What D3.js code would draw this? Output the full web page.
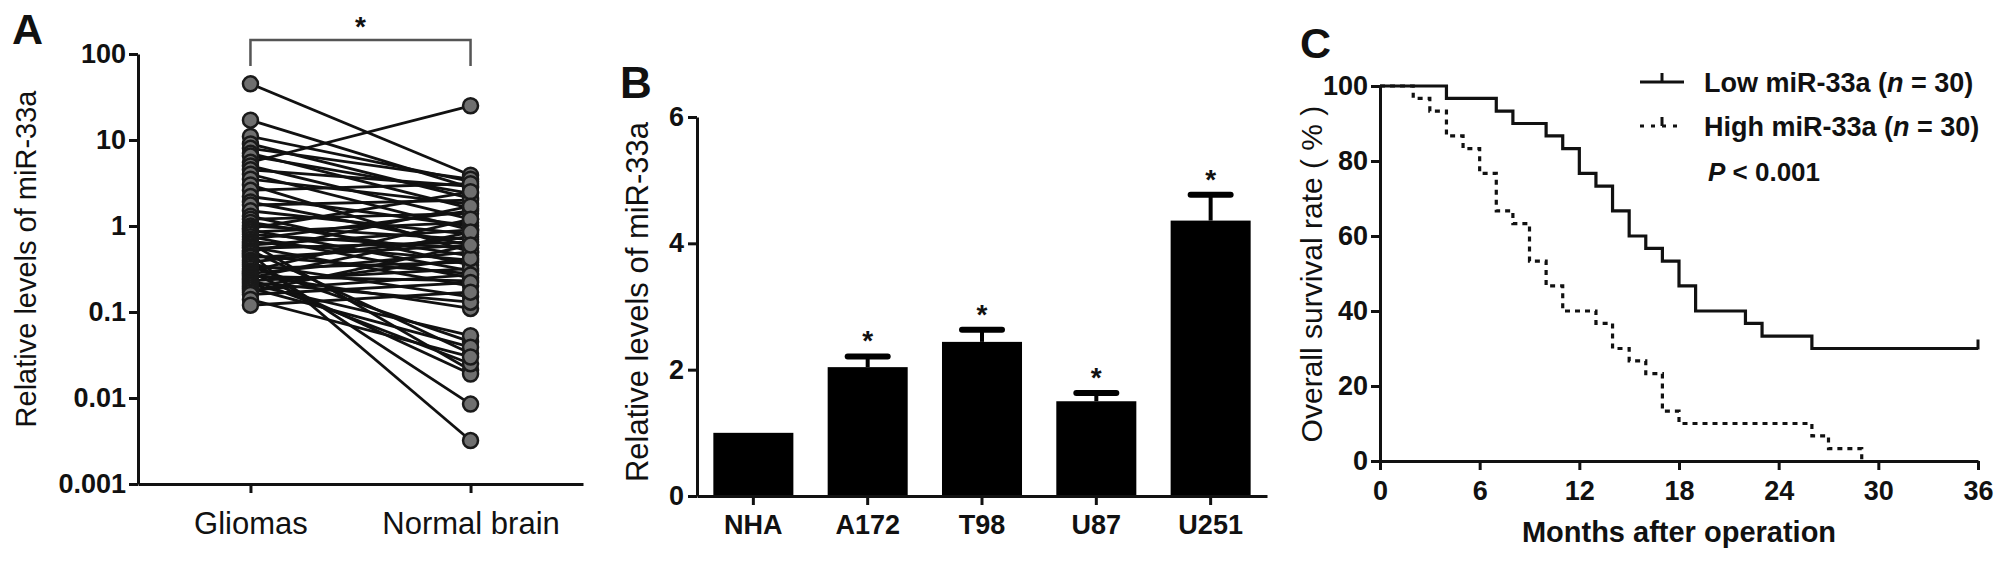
<!DOCTYPE html>
<html><head><meta charset="utf-8">
<script src="https://cdn.jsdelivr.net/npm/d3@7/dist/d3.min.js"></script>
<style>
body{margin:0;background:#fff;}
svg text{font-family:"Liberation Sans", Arial, Helvetica, sans-serif;fill:#111;}
</style></head><body>
<svg id="chart" width="2008" height="580"></svg>
<script>
// ---------- Panel A data ----------
const groupsA = ["Gliomas", "Normal brain"];
const gliomaValues = [45,17,11,9,8,7,6.5,5.5,5,4.5,4,3.5,3,2.6,2.2,1.9,1.75,1.5,1.3,1.2,1.1,1.0,0.94,0.9,0.85,0.8,0.75,0.7,0.66,0.63,0.6,0.57,0.55,0.52,0.5,0.48,0.45,0.43,0.4,0.38,0.36,0.34,0.32,0.3,0.29,0.28,0.27,0.26,0.25,0.24,0.23,0.22,0.21,0.2,0.19,0.18,0.17,0.16,0.14,0.12];
const normalValues = [3.9,2.8,3.3,2.1,3.5,1.6,2.4,25,1.2,2.9,0.9,1.8,0.5,3.1,1.0,0.6,2.0,0.8,0.35,1.4,0.45,0.7,2.5,0.3,1.1,0.55,0.25,1.5,0.4,0.021,0.9,0.2,0.65,0.033,1.7,0.0032,0.28,0.6,0.0085,0.75,0.15,0.045,0.38,1.2,0.019,0.5,0.11,0.23,0.85,0.025,0.32,0.13,0.053,0.42,0.039,0.27,0.6,0.22,0.03,0.17];
const tickValuesA = [100, 10, 1, 0.1, 0.01, 0.001];
const tickLabelsA = ["100", "10", "1", "0.1", "0.01", "0.001"];

// ---------- Panel B data ----------
const cellLines = ["NHA", "A172", "T98", "U87", "U251"];
const meanLevels = [1.0, 2.04, 2.44, 1.5, 4.36];
const semLevels = [0, 0.17, 0.19, 0.13, 0.41];
const significant = [false, true, true, true, true];
const ticksB = [0, 2, 4, 6];

// ---------- Panel C data ----------
const lowTimes = [0,4,7,8,10,11,12,13,14,15,16,17,18,19,22,23,26,36];
const lowSurvival = [100,96.7,93.3,90,86.7,83.3,76.7,73.3,66.7,60,56.7,53.3,46.7,40,36.7,33.3,30,30];
const highTimes = [0,2,3,4,5,6,7,8,9,10,11,13,14,15,16,17,18,26,27,29];
const highSurvival = [100,96.7,93.3,86.7,83.3,76.7,66.7,63.3,53.3,46.7,40,36.7,30,26.7,23.3,13.3,10,6.7,3.3,0];
const ticksCx = [0, 6, 12, 18, 24, 30, 36];
const ticksCy = [0, 20, 40, 60, 80, 100];
const legendLabels = ["Low miR-33a", "High miR-33a"];
const legendN = [30, 30];

const svg = d3.select("#chart");
const AXW = 3;

function styleAxis(g, fs) {
  g.select(".domain").attr("stroke", "#111").attr("stroke-width", AXW);
  g.selectAll(".tick line").attr("stroke", "#111").attr("stroke-width", AXW);
  g.selectAll(".tick text").attr("font-size", fs).attr("font-weight", "bold").attr("fill", "#111");
}

// ================= Panel A =================
const yA = d3.scaleLog().domain([0.001, 100]).range([484, 54]);
const xA = d3.scalePoint().domain(groupsA).range([138, 583]).padding(0.511);
const gA = svg.append("g");

gA.append("text").attr("x", 12).attr("y", 44).attr("font-size", 43).attr("font-weight", "bold").text("A");

const axA = gA.append("g").attr("transform", "translate(138,0)")
  .call(d3.axisLeft(yA).tickValues(tickValuesA).tickFormat((d, i) => tickLabelsA[i]).tickSize(9).tickSizeOuter(0).tickPadding(3));
styleAxis(axA, 27);

const axAx = gA.append("g").attr("transform", "translate(0,484)")
  .call(d3.axisBottom(xA).tickSize(9).tickSizeOuter(0).tickPadding(19));
styleAxis(axAx, 31);
axAx.selectAll(".tick text").attr("font-weight", "normal");

gA.append("text").attr("transform", "translate(36,259) rotate(-90)")
  .attr("text-anchor", "middle").attr("font-size", 29).text("Relative levels of miR-33a");

// bracket
gA.append("path")
  .attr("d", `M${xA(groupsA[0])},66V40H${xA(groupsA[1])}V66`)
  .attr("fill", "none").attr("stroke", "#555").attr("stroke-width", 2.5);
gA.append("text").attr("x", (xA(groupsA[0]) + xA(groupsA[1])) / 2).attr("y", 36)
  .attr("text-anchor", "middle").attr("font-size", 28).attr("font-weight", "bold").text("*");

const pairs = gliomaValues.map((g, i) => ({ g, n: normalValues[i] }));
gA.append("g").selectAll("line").data(pairs).join("line")
  .attr("x1", xA(groupsA[0])).attr("x2", xA(groupsA[1]))
  .attr("y1", d => yA(d.g)).attr("y2", d => yA(d.n))
  .attr("stroke", "#111").attr("stroke-width", 2.8);
gA.append("g").selectAll("circle").data(pairs).join("circle")
  .attr("cx", xA(groupsA[0])).attr("cy", d => yA(d.g)).attr("r", 7.5)
  .attr("fill", "#6f6f6f").attr("stroke", "#1a1a1a").attr("stroke-width", 2.5);
gA.append("g").selectAll("circle").data(pairs).join("circle")
  .attr("cx", xA(groupsA[1])).attr("cy", d => yA(d.n)).attr("r", 7.5)
  .attr("fill", "#6f6f6f").attr("stroke", "#1a1a1a").attr("stroke-width", 2.5);

// ================= Panel B =================
const yB = d3.scaleLinear().domain([0, 6]).range([496, 117]);
const xB = d3.scaleBand().domain(cellLines).range([697, 1267]).paddingInner(0.3).paddingOuter(0.143);
const gB = svg.append("g");

gB.append("text").attr("x", 620).attr("y", 98).attr("font-size", 44).attr("font-weight", "bold").text("B");

gB.append("g").selectAll("rect").data(cellLines).join("rect")
  .attr("x", d => xB(d)).attr("width", xB.bandwidth())
  .attr("y", (d, i) => yB(meanLevels[i])).attr("height", (d, i) => yB(0) - yB(meanLevels[i]))
  .attr("fill", "#000");

const errG = gB.append("g");
cellLines.forEach((c, i) => {
  if (semLevels[i] <= 0) return;
  const cx = xB(c) + xB.bandwidth() / 2;
  errG.append("line").attr("x1", cx).attr("x2", cx)
    .attr("y1", yB(meanLevels[i])).attr("y2", yB(meanLevels[i] + semLevels[i]))
    .attr("stroke", "#000").attr("stroke-width", 4);
  errG.append("line").attr("x1", cx - 20).attr("x2", cx + 20)
    .attr("y1", yB(meanLevels[i] + semLevels[i])).attr("y2", yB(meanLevels[i] + semLevels[i]))
    .attr("stroke", "#000").attr("stroke-width", 6).attr("stroke-linecap", "round");
  if (significant[i]) {
    errG.append("text").attr("x", cx).attr("y", yB(meanLevels[i] + semLevels[i]) - 6)
      .attr("text-anchor", "middle").attr("font-size", 28).attr("font-weight", "bold").text("*");
  }
});

const axB = gB.append("g").attr("transform", "translate(697,0)")
  .call(d3.axisLeft(yB).tickValues(ticksB).tickFormat(d3.format("d")).tickSize(9).tickSizeOuter(0).tickPadding(4));
styleAxis(axB, 27);
const axBx = gB.append("g").attr("transform", "translate(0,496)")
  .call(d3.axisBottom(xB).tickSize(9).tickSizeOuter(0).tickPadding(10));
styleAxis(axBx, 27);

gB.append("text").attr("transform", "translate(648,302) rotate(-90)")
  .attr("text-anchor", "middle").attr("font-size", 31).text("Relative levels of miR-33a");

// ================= Panel C =================
const xC = d3.scaleLinear().domain([0, 36]).range([1380, 1978]);
const yC = d3.scaleLinear().domain([0, 100]).range([461, 86]);
const gC = svg.append("g");

gC.append("text").attr("x", 1300).attr("y", 58).attr("font-size", 43).attr("font-weight", "bold").text("C");

const axC = gC.append("g").attr("transform", "translate(1380,0)")
  .call(d3.axisLeft(yC).tickValues(ticksCy).tickSize(9).tickSizeOuter(0).tickPadding(3));
styleAxis(axC, 27);
const axCx = gC.append("g").attr("transform", "translate(0,461)")
  .call(d3.axisBottom(xC).tickValues(ticksCx).tickSize(9).tickSizeOuter(0).tickPadding(11));
styleAxis(axCx, 27);

gC.append("text").attr("transform", "translate(1322,274) rotate(-90)")
  .attr("text-anchor", "middle").attr("font-size", 30).text("Overall survival rate ( % )");
gC.append("text").attr("x", (xC(0) + xC(36)) / 2).attr("y", 542)
  .attr("text-anchor", "middle").attr("font-size", 29).attr("font-weight", "bold").text("Months after operation");

const step = d3.line().curve(d3.curveStepAfter).x(d => xC(d[0])).y(d => yC(d[1]));
const lowPts = lowTimes.map((t, i) => [t, lowSurvival[i]]);
const highPts = highTimes.map((t, i) => [t, highSurvival[i]]);
gC.append("path").attr("d", step(lowPts)).attr("fill", "none").attr("stroke", "#111").attr("stroke-width", 3.2);
gC.append("path").attr("d", step(highPts)).attr("fill", "none").attr("stroke", "#111").attr("stroke-width", 3.2)
  .attr("stroke-dasharray", "5,5");
// censor tick at end of low curve
gC.append("line").attr("x1", xC(36)).attr("x2", xC(36))
  .attr("y1", yC(lowSurvival[lowSurvival.length - 1]) - 9).attr("y2", yC(lowSurvival[lowSurvival.length - 1]) + 1)
  .attr("stroke", "#111").attr("stroke-width", 3);

// legend
const legY = [82, 126];
legendLabels.forEach((lab, i) => {
  const lg = gC.append("g");
  lg.append("line").attr("x1", 1640).attr("x2", 1684).attr("y1", legY[i]).attr("y2", legY[i])
    .attr("stroke", "#111").attr("stroke-width", 3).attr("stroke-dasharray", i === 0 ? null : "4,7");
  lg.append("line").attr("x1", 1662).attr("x2", 1662).attr("y1", legY[i] - 9).attr("y2", legY[i])
    .attr("stroke", "#111").attr("stroke-width", 3);
  const t = lg.append("text").attr("x", 1704).attr("y", legY[i] + 10).attr("font-size", 27).attr("font-weight", "bold");
  t.append("tspan").text(lab + " (");
  t.append("tspan").attr("font-style", "italic").text("n");
  t.append("tspan").text(" = " + legendN[i] + ")");
});
const pt = gC.append("text").attr("x", 1708).attr("y", 181).attr("font-size", 26).attr("font-weight", "bold");
pt.append("tspan").attr("font-style", "italic").text("P");
pt.append("tspan").text(" < 0.001");
</script>
</body></html>
